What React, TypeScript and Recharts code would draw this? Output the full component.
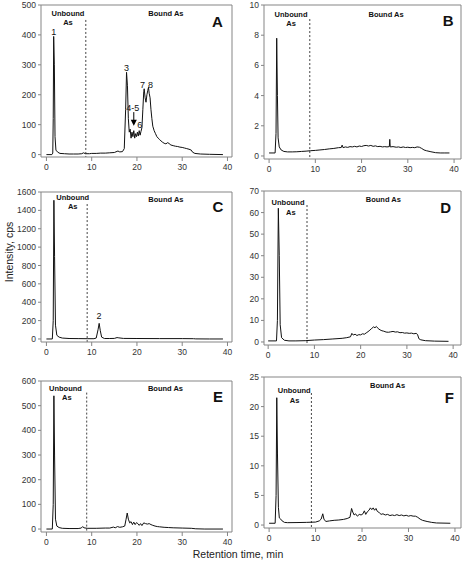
import React from 'react';
import {
  LineChart,
  Line,
  XAxis,
  YAxis,
  ReferenceLine,
  ReferenceDot,
} from 'recharts';

// retention time (min), intensity (cps)
const traceA: [number, number][] = [
  [0, 0], [1.2, 0], [1.4, 5], [1.5, 120], [1.6, 395], [1.75, 300], [1.9, 60], [2.1, 15], [2.5, 8],
  [3, 4], [4, 3], [5, 2], [6, 2], [7, 2], [7.8, 3], [8.2, 6], [8.6, 3], [9.5, 3], [10, 4], [11, 4],
  [12, 5], [13, 5], [14, 6], [15, 7], [15.8, 12], [16.2, 9], [16.8, 10], [17.2, 20], [17.5, 150],
  [17.7, 275], [17.9, 230], [18.1, 120], [18.3, 75], [18.5, 85], [18.7, 55], [18.9, 75], [19.1, 60],
  [19.3, 80], [19.5, 55], [19.7, 70], [19.9, 60], [20.1, 75], [20.3, 62], [20.5, 80], [20.7, 65],
  [20.9, 78], [21.1, 90], [21.3, 150], [21.5, 210], [21.6, 220], [21.8, 190], [22.0, 175],
  [22.2, 200], [22.4, 215], [22.55, 225], [22.7, 205], [22.9, 190], [23.1, 150], [23.3, 120],
  [23.5, 95], [23.8, 80], [24.1, 70], [24.4, 60], [24.7, 55], [25, 50], [25.3, 46], [25.6, 42],
  [26, 38], [26.4, 36], [26.8, 40], [27.1, 37], [27.5, 32], [28, 30], [28.5, 28], [29, 27],
  [29.5, 25], [30, 24], [30.5, 22], [31, 20], [31.5, 18], [32, 15], [32.3, 8], [32.8, 4], [34, 2],
  [36, 1], [39, 0],
];

const traceB: [number, number][] = [
  [0, 0.2], [1.3, 0.2], [1.5, 1.5], [1.65, 7.8], [1.8, 4], [1.95, 1.2], [2.2, 0.6], [2.6, 0.4],
  [3.2, 0.3], [4, 0.27], [5, 0.27], [6, 0.28], [7, 0.3], [8, 0.32], [9, 0.35], [10, 0.37],
  [11, 0.4], [12, 0.43], [13, 0.47], [14, 0.5], [15, 0.55], [15.6, 0.56], [15.8, 0.72], [16, 0.55],
  [16.5, 0.6], [17, 0.57], [17.5, 0.62], [18, 0.6], [18.5, 0.64], [19, 0.6], [19.5, 0.66],
  [20, 0.63], [20.5, 0.68], [21, 0.7], [21.5, 0.66], [22, 0.7], [22.5, 0.64], [23, 0.67],
  [23.5, 0.62], [24, 0.64], [24.5, 0.6], [25, 0.62], [25.5, 0.6], [26, 0.62], [26.1, 1.1],
  [26.2, 0.6], [26.8, 0.62], [27.5, 0.58], [28, 0.6], [28.5, 0.56], [29, 0.6], [29.5, 0.56],
  [30, 0.58], [30.5, 0.55], [31, 0.57], [31.5, 0.55], [32, 0.6], [32.5, 0.58], [33, 0.5],
  [33.5, 0.4], [34, 0.35], [35, 0.28], [36, 0.22], [37, 0.2], [38, 0.2], [39, 0.2],
];

const traceC: [number, number][] = [
  [0, 0], [1.3, 0], [1.5, 200], [1.65, 1510], [1.8, 900], [2.0, 150], [2.3, 40], [2.8, 20],
  [3.5, 10], [5, 5], [7, 4], [9, 3], [10.5, 3], [11, 10], [11.4, 100], [11.65, 170], [11.9, 90],
  [12.2, 20], [12.8, 5], [14, 5], [15, 6], [15.6, 15], [16, 12], [17, 6], [20, 5], [25, 4],
  [30, 4], [32.5, 3], [33, 1], [36, 0], [39, 0],
];

const traceD: [number, number][] = [
  [0, 0.5], [1.8, 0.5], [2.0, 10], [2.2, 62], [2.4, 40], [2.6, 8], [2.9, 2], [3.5, 0.8],
  [4.5, 0.5], [6, 0.5], [8, 0.6], [10, 0.9], [12, 1.1], [14, 1.4], [16, 1.7], [17, 2], [17.8, 2.4],
  [18.1, 4], [18.4, 3.2], [18.8, 3.6], [19.2, 3], [19.6, 3.4], [20, 3.3], [20.4, 3.8], [20.8, 3.6],
  [21.2, 4.2], [21.6, 4.8], [22, 5.5], [22.4, 6.3], [22.8, 7], [23.1, 6.6], [23.4, 7.2],
  [23.8, 6.2], [24.2, 5.6], [24.6, 5.2], [25, 5], [25.5, 4.6], [26, 4.5], [26.5, 4.7], [27, 4.9],
  [27.5, 4.6], [28, 4.7], [28.5, 4.3], [29, 4.4], [29.5, 4.1], [30, 4.2], [30.5, 4], [31, 4.1],
  [31.5, 3.8], [32, 4], [32.3, 3.5], [32.6, 1.5], [33, 1], [34, 0.6], [36, 0.4], [39, 0.3],
];

const traceE: [number, number][] = [
  [0, 0], [1.3, 0], [1.5, 100], [1.65, 540], [1.8, 300], [2.0, 40], [2.3, 12], [2.8, 6], [3.5, 3],
  [5, 2], [7, 2], [7.7, 4], [8, 10], [8.3, 5], [9, 3], [11, 3], [13, 4], [14, 4], [14.8, 8],
  [15.2, 5], [15.7, 10], [16.2, 7], [16.8, 9], [17.3, 12], [17.6, 40], [17.85, 65], [18.1, 40],
  [18.4, 25], [18.7, 30], [19, 18], [19.3, 28], [19.6, 18], [19.9, 26], [20.2, 22], [20.5, 15],
  [20.8, 22], [21.1, 14], [21.5, 25], [21.9, 22], [22.3, 20], [22.7, 22], [23.1, 18], [23.5, 15],
  [24, 12], [24.5, 10], [25, 9], [26, 7], [27, 6], [28, 5], [30, 4], [32, 3], [33, 1], [35, 0],
  [39, 0],
];

const traceF: [number, number][] = [
  [0, 0.3], [1.3, 0.3], [1.5, 5], [1.65, 21.5], [1.8, 12], [2.0, 3], [2.2, 1.2], [2.5, 1],
  [2.8, 0.7], [3.3, 0.45], [4, 0.4], [6, 0.42], [8, 0.45], [10, 0.5], [10.8, 0.7], [11.2, 1],
  [11.55, 1.9], [11.8, 1], [12.2, 0.6], [13, 0.7], [14, 0.8], [15, 0.85], [16, 0.95], [16.8, 1.1],
  [17.4, 1.3], [17.75, 2.8], [18, 2.2], [18.3, 1.7], [18.6, 1.9], [19, 1.5], [19.4, 1.8],
  [19.8, 1.7], [20.2, 1.9], [20.5, 2.4], [20.8, 1.8], [21.1, 2.2], [21.5, 2.5], [21.8, 2.9],
  [22.1, 2.6], [22.4, 2.9], [22.7, 2.5], [23, 2.8], [23.3, 2.3], [23.7, 2.1], [24.1, 1.8],
  [24.5, 1.9], [25, 1.7], [25.5, 1.8], [26, 1.6], [26.5, 1.7], [27, 1.6], [27.5, 1.75], [28, 1.6],
  [28.5, 1.7], [29, 1.55], [29.5, 1.65], [30, 1.5], [30.5, 1.6], [31, 1.5], [31.5, 1.5],
  [32, 1.3], [32.5, 1], [33, 0.8], [34, 0.6], [35, 0.45], [36, 0.35], [39, 0.3],
];

const xTicks = [0, 10, 20, 30, 40];
const ticksA = [0, 100, 200, 300, 400, 500];
const ticksB = [0, 2, 4, 6, 8, 10];
const ticksC = [0, 200, 400, 600, 800, 1000, 1200, 1400, 1600];
const ticksD = [0, 10, 20, 30, 40, 50, 60, 70];
const ticksE = [0, 100, 200, 300, 400, 500, 600];
const ticksF = [0, 5, 10, 15, 20, 25];

// [x, y, text, kind]  kind: u = unbound/bound caption, p = peak number, l = panel letter
type Note = [number, number, string, string];
const notesA: Note[] = [
  [4.75, 473, 'Unbound', 'u'], [4.75, 443, 'As', 'u'], [26.4, 473, 'Bound As', 'u'], [37.8, 445, 'A', 'l'],
  [1.6, 410, '1', 'p'], [17.7, 290, '3', 'p'], [19.1, 155, '4-5', 'p'], [20.6, 98, '6', 'p'],
  [21.2, 232, '7', 'p'], [23.0, 232, '8', 'p'],
];
const notesB: Note[] = [
  [4.75, 9.35, 'Unbound', 'u'], [4.75, 8.75, 'As', 'u'], [25.3, 9.4, 'Bound As', 'u'], [38.7, 8.95, 'B', 'l'],
];
const notesC: Note[] = [
  [5.8, 1545, 'Unbound', 'u'], [5.8, 1440, 'As', 'u'], [26.4, 1515, 'Bound As', 'u'], [37.9, 1440, 'C', 'l'],
  [11.6, 245, '2', 'p'],
];
const notesD: Note[] = [
  [4.3, 64.5, 'Unbound', 'u'], [4.9, 60, 'As', 'u'], [24.9, 66, 'Bound As', 'u'], [38.4, 62.5, 'D', 'l'],
];
const notesE: Note[] = [
  [4.2, 570, 'Unbound', 'u'], [4.5, 534, 'As', 'u'], [26.3, 570, 'Bound As', 'u'], [37.9, 538, 'E', 'l'],
];
const notesF: Note[] = [
  [5.4, 22.8, 'Unbound', 'u'], [5.5, 21.1, 'As', 'u'], [25.5, 23.6, 'Bound As', 'u'], [38.8, 21.6, 'F', 'l'],
];

const axisColor = '#858585';
const tickStyle = { fontSize: 8.5, fill: '#333', fontFamily: 'Liberation Sans, Arial, sans-serif' };

const noteShape = (text: string, kind: string) => (p: any) => {
  const size = kind === 'l' ? 15 : kind === 'p' ? 9 : 7.5;
  const weight = kind === 'p' ? 'normal' : 'bold';
  return (
    <text
      x={p.cx}
      y={p.cy}
      textAnchor="middle"
      dominantBaseline="central"
      fontSize={size}
      fontWeight={weight}
      fontFamily="Liberation Sans, Arial, sans-serif"
      fill="#111"
    >
      {text}
    </text>
  );
};

const arrowHead = (p: any) => (
  <path d={`M${p.cx - 3},${p.cy - 5} L${p.cx + 3},${p.cy - 5} L${p.cx},${p.cy + 1} Z`} fill="#000" />
);

const Panel = ({
  trace, ticks, yDomain, xDomain, notes, split, splitTop, pos, children,
}: any) => {
  const data = trace.map(([t, v]: [number, number]) => ({ t, v }));
  return (
    <div style={{ position: 'absolute', left: pos.left, top: pos.top }}>
      <LineChart
        width={pos.width}
        height={pos.height}
        data={data}
        margin={{ top: pos.mt, right: pos.mr, left: 0, bottom: 3 }}
      >
        <XAxis
          type="number"
          dataKey="t"
          domain={xDomain}
          ticks={xTicks}
          allowDataOverflow
          height={30}
          tickSize={4}
          tickMargin={3}
          stroke={axisColor}
          tick={tickStyle}
        />
        <YAxis
          type="number"
          domain={yDomain}
          ticks={ticks}
          allowDataOverflow
          width={pos.yw}
          tickSize={3}
          tickMargin={2}
          stroke={axisColor}
          tick={tickStyle}
        />
        <ReferenceLine y={yDomain[1]} stroke={axisColor} />
        <ReferenceLine x={xDomain[1]} stroke={axisColor} />
        <ReferenceLine
          segment={[{ x: split, y: splitTop }, { x: split, y: yDomain[0] }]}
          stroke="#444"
          strokeDasharray="2 2"
        />
        <Line
          dataKey="v"
          stroke="#111"
          strokeWidth={1}
          dot={false}
          isAnimationActive={false}
        />
        {notes.map(([x, y, text, kind]: Note, i: number) => (
          <ReferenceDot key={i} x={x} y={y} r={0} ifOverflow="visible" shape={noteShape(text, kind)} />
        ))}
        {children}
      </LineChart>
    </div>
  );
};

const leftCol = { left: 0, width: 240, mr: 8, yw: 41 };
const rightCol = { left: 224, width: 238, mr: 1, yw: 40 };

export default function App() {
  return (
    <div
      style={{
        position: 'absolute', left: 0, top: 0, width: 462, height: 573,
        background: '#fff', overflow: 'hidden',
      }}
    >
      <Panel trace={traceA} ticks={ticksA} yDomain={[-8, 500]} xDomain={[-1.2, 41]}
        notes={notesA} split={8.7} splitTop={450}
        pos={{ ...leftCol, top: 0, height: 190, mt: 5 }}>
        <ReferenceLine segment={[{ x: 19.3, y: 142 }, { x: 19.3, y: 104 }]} stroke="#000" />
        <ReferenceDot x={19.3} y={100} r={0} ifOverflow="visible" shape={arrowHead} />
      </Panel>
      <Panel trace={traceB} ticks={ticksB} yDomain={[-0.2, 10]} xDomain={[-1.1, 41.5]}
        notes={notesB} split={8.8} splitTop={9.07}
        pos={{ ...rightCol, top: 0, height: 192, mt: 5 }} />
      <Panel trace={traceC} ticks={ticksC} yDomain={[-33, 1600]} xDomain={[-1.2, 41]}
        notes={notesC} split={9.0} splitTop={1469}
        pos={{ ...leftCol, top: 180, height: 195, mt: 12 }} />
      <Panel trace={traceD} ticks={ticksD} yDomain={[-1.4, 70]} xDomain={[-0.9, 41.7]}
        notes={notesD} split={8.4} splitTop={63.5}
        pos={{ ...rightCol, top: 180, height: 198, mt: 11 }} />
      <Panel trace={traceE} ticks={ticksE} yDomain={[-12, 600]} xDomain={[-1.2, 41]}
        notes={notesE} split={8.9} splitTop={553}
        pos={{ ...leftCol, top: 370, height: 195, mt: 11 }} />
      <Panel trace={traceF} ticks={ticksF} yDomain={[-0.5, 25]} xDomain={[-1.1, 41.3]}
        notes={notesF} split={9.1} splitTop={22.3}
        pos={{ ...rightCol, top: 370, height: 191, mt: 7 }} />
      <div
        style={{
          position: 'absolute', left: 9, top: 252, transform: 'translate(-50%, -50%) rotate(-90deg)',
          fontFamily: 'Liberation Sans, Arial, sans-serif', fontSize: 10.5, color: '#222', whiteSpace: 'nowrap',
        }}
      >
        Intensity, cps
      </div>
      <div
        style={{
          position: 'absolute', left: 238, top: 554, transform: 'translate(-50%, -50%)',
          fontFamily: 'Liberation Sans, Arial, sans-serif', fontSize: 10.5, color: '#222', whiteSpace: 'nowrap',
        }}
      >
        Retention time, min
      </div>
    </div>
  );
}
